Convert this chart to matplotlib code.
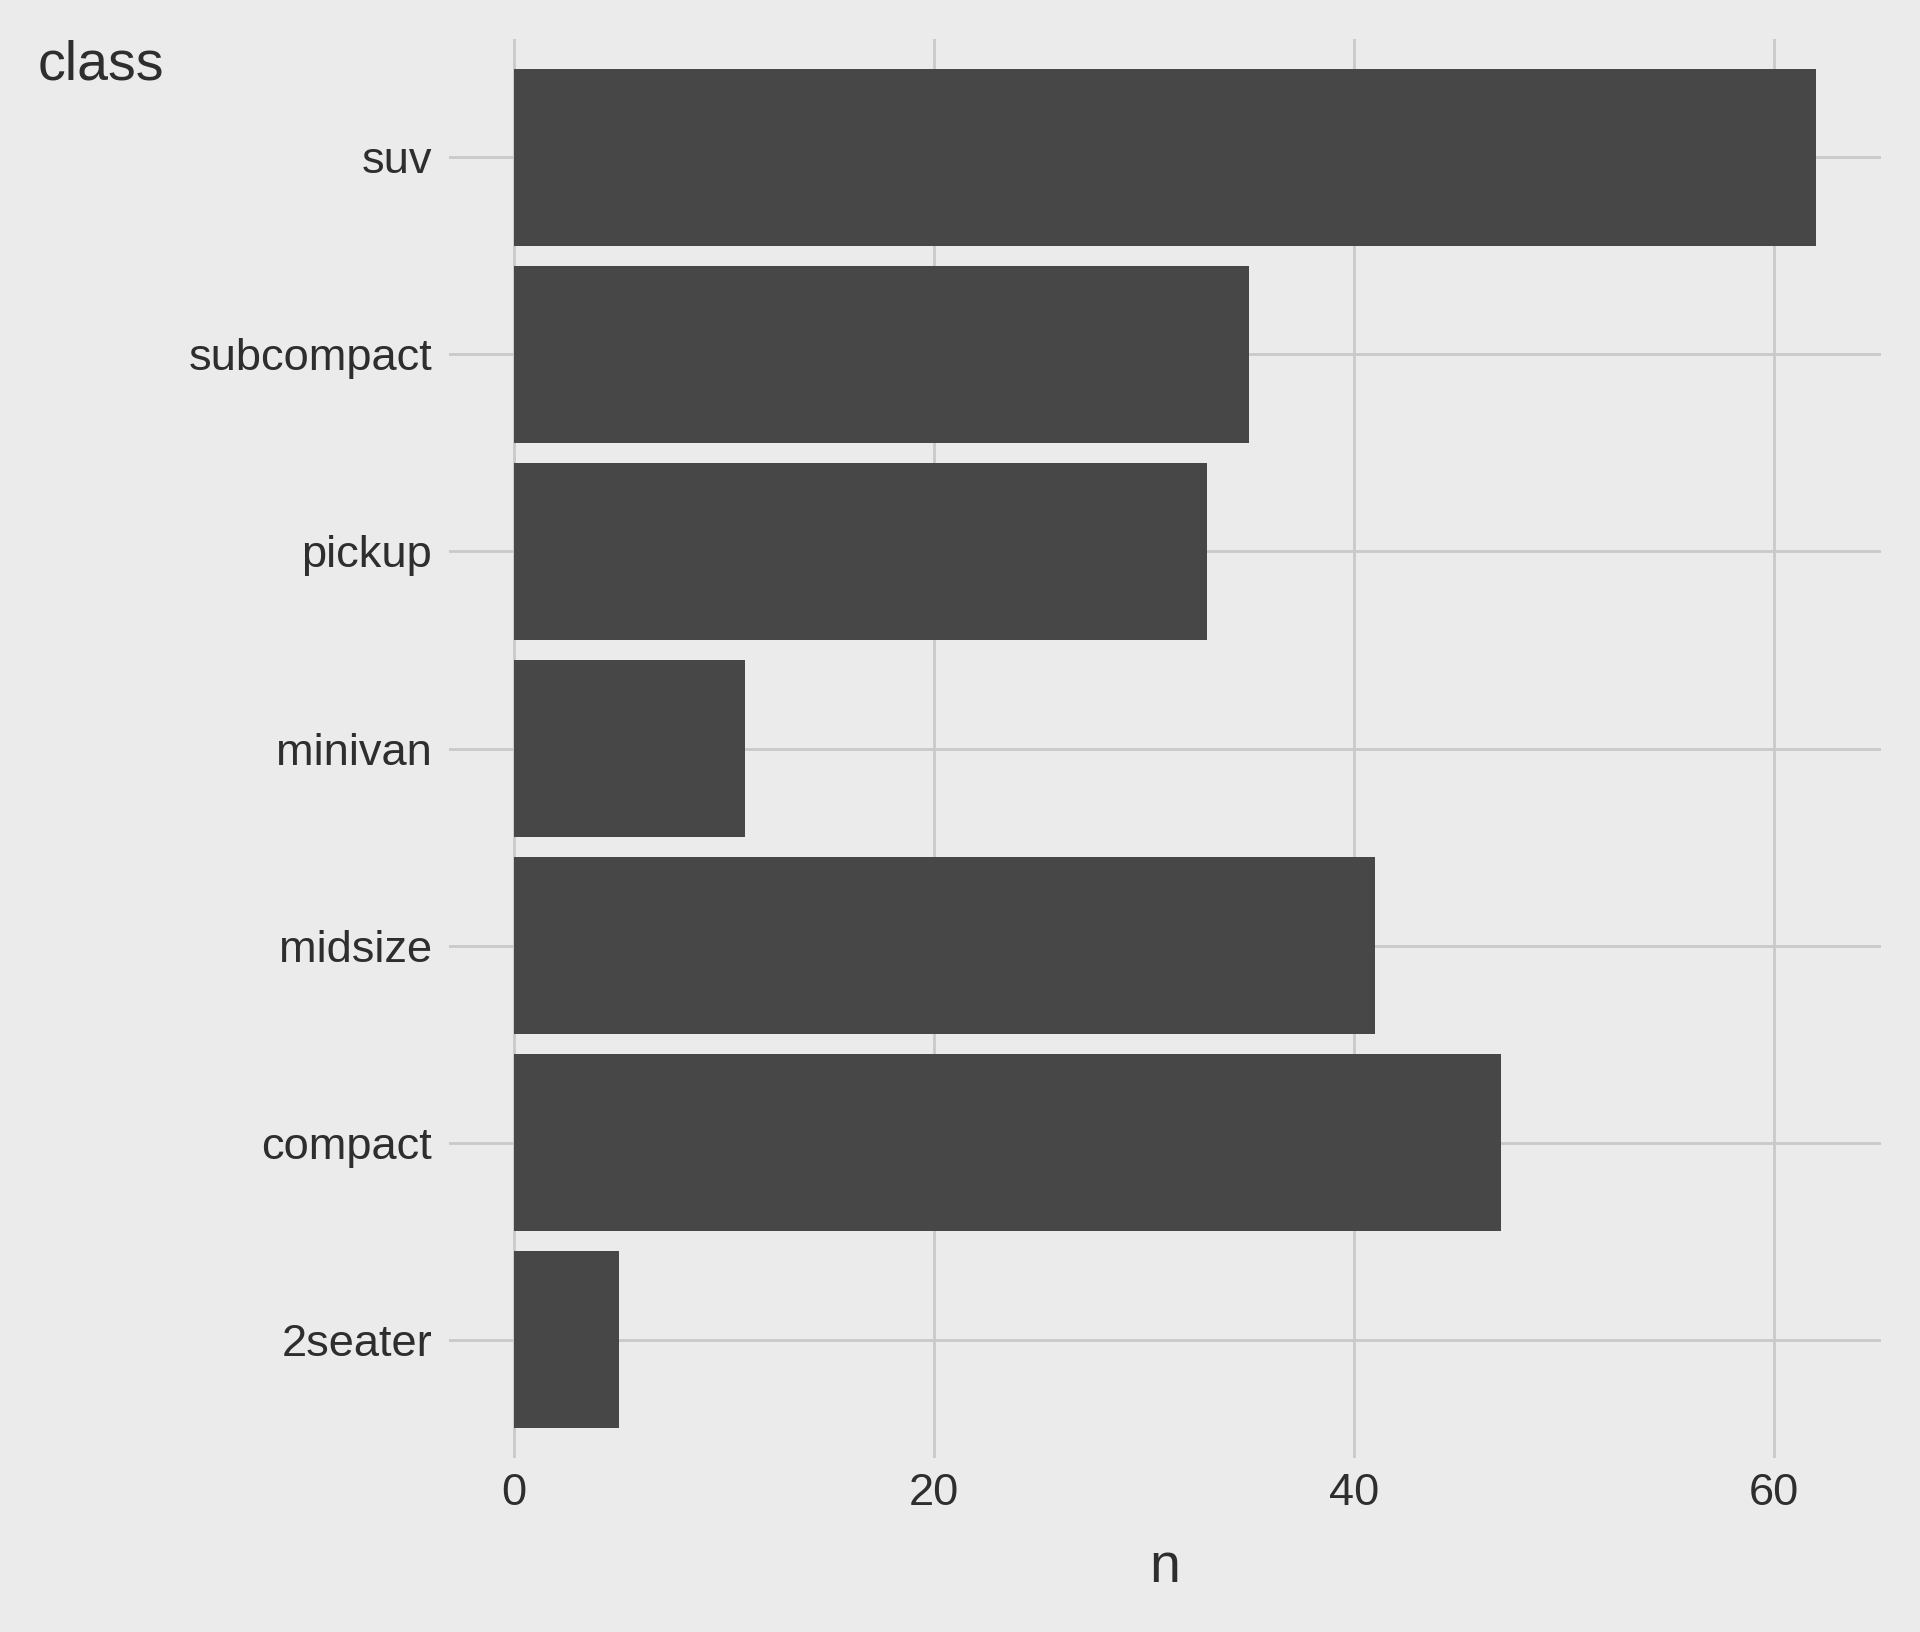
import matplotlib
matplotlib.use("Agg")
import matplotlib.pyplot as plt

classes = ["2seater", "compact", "midsize", "minivan", "pickup", "subcompact", "suv"]
counts = [5, 47, 41, 11, 33, 35, 62]
xticks = [0, 20, 40, 60]

BG = "#EBEBEB"
BAR = "#474747"
GRID = "#C9C9C9"
TEXT = "#2E2E2E"

plt.rcParams["font.family"] = ["Liberation Sans", "DejaVu Sans"]

fig = plt.figure(figsize=(9.6, 8.16), dpi=200, facecolor=BG)
ax = fig.add_axes([0.2339, 0.1066, 0.7458, 0.8695])
ax.set_facecolor(BG)

ax.barh(range(len(classes)), counts, height=0.9, color=BAR, zorder=2)

ax.set_xlim(-3.1, 65.1)
ax.set_ylim(-0.6, len(classes) - 0.4)
ax.set_xticks(xticks)
ax.set_yticks(range(len(classes)))
ax.set_yticklabels(classes)

ax.grid(True, color=GRID, linewidth=1.0, zorder=0)
for s in ax.spines.values():
    s.set_visible(False)
ax.tick_params(axis="both", length=0, labelsize=16.3, labelcolor=TEXT)
ax.tick_params(axis="y", pad=6.1)
ax.tick_params(axis="x", pad=5.4)

ax.set_xlabel("n", fontsize=20, color=TEXT)
ax.xaxis.set_label_coords(0.5, -0.059)
fig.text(38 / 1920, 1 - 79 / 1632, "class", fontsize=20, color=TEXT,
         ha="left", va="baseline")

fig.savefig("out.png", dpi=200, facecolor=BG)
